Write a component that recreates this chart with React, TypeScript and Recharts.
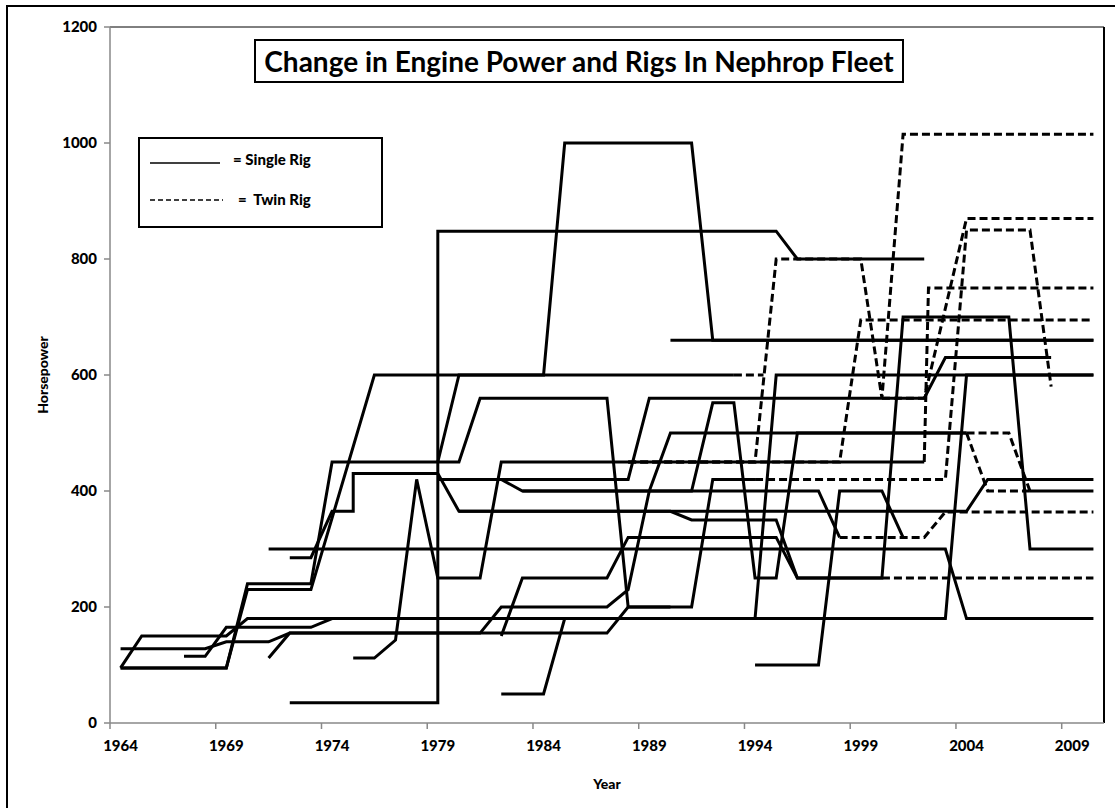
import React from 'react';
import { LineChart, Line, XAxis, YAxis, ReferenceLine } from 'recharts';

// Engine power (hp) per vessel by year. A vessel that changed rig has a solid
// run (single rig) and a dashed run (twin rig) that share the changeover point.
type Pt = [number, number];

const yearTicks = [1964, 1969, 1974, 1979, 1984, 1989, 1994, 1999, 2004, 2009];
const hpTicks = [0, 200, 400, 600, 800, 1000, 1200];

const single01: Pt[] = [[1972, 35], [1979, 35], [1979, 848], [1995, 848], [1996, 800], [2002, 800]];
const single02: Pt[] = [[1964, 95], [1969, 95], [1970, 230], [1973, 230], [1976, 600], [1984, 600], [1985, 1000], [1991, 1000], [1992, 660], [2010, 660]];
const single03: Pt[] = [[1964, 95], [1969, 95], [1970, 240], [1973, 240], [1974, 450], [1980, 450], [1981, 560], [1987, 560], [1988, 200], [1991, 200], [1992, 420], [1994, 420]];
const twin03: Pt[] = [[1994, 420], [2003, 420], [2004, 850], [2007, 850], [2008, 580]];
const single04: Pt[] = [[1979, 450], [1980, 600], [1993, 600]];
const twin04: Pt[] = [[1993, 600], [1994.4, 600]];
const single05: Pt[] = [[1972, 285], [1973, 285], [1974, 365], [1975, 365], [1975, 430], [1979, 430], [1980, 365], [2004, 365], [2005, 420], [2010, 420]];
const single06: Pt[] = [[1980, 365], [1990, 365], [1991, 350], [1995, 350], [1996, 250], [2000, 250], [2001, 700], [2006, 700], [2007, 300], [2010, 300]];
const single07: Pt[] = [[1975, 112], [1976, 112], [1977, 143], [1978, 420], [1979, 250], [1981, 250], [1982, 450], [2002, 450]];
const twin07: Pt[] = [[2002, 450], [2002.2, 750], [2010, 750]];
const twin08: Pt[] = [[1988, 450], [1994, 450], [1995, 800], [1999, 800], [2000, 560], [2001, 1015], [2010, 1015]];
const single09: Pt[] = [[1979, 420], [1988, 420], [1989, 560], [2002, 560], [2003, 630], [2008, 630]];
const single10: Pt[] = [[1990, 660], [2010, 660]];
const single11: Pt[] = [[1964, 128], [1968, 128], [1969, 140], [1971, 140], [1972, 155], [1981, 155], [1982, 200], [1987, 200], [1988, 230], [1989, 400], [1990, 500], [2004, 500]];
const twin11: Pt[] = [[2004, 500], [2006, 500], [2007, 400]];
const single11b: Pt[] = [[2007, 400], [2010, 400]];
const twin13: Pt[] = [[2004, 500], [2005, 400], [2007, 400]];
const single14: Pt[] = [[1982, 150], [1983, 250], [1987, 250], [1988, 320], [1995, 320], [1996, 250], [2000, 250]];
const twin14: Pt[] = [[2000, 250], [2010, 250]];
const single15: Pt[] = [[1983, 400], [1991, 400], [1992, 552], [1993, 552], [1994, 250], [1995, 250], [1996, 500], [2004, 500]];
const single16: Pt[] = [[1979, 420], [1982, 420], [1983, 400], [1997, 400], [1998, 320]];
const twin16: Pt[] = [[1998, 320], [2002, 320], [2003, 364], [2010, 364]];
const single17: Pt[] = [[1994, 100], [1997, 100], [1998, 400], [2000, 400], [2001, 320]];
const single19: Pt[] = [[1967, 115], [1968, 115], [1969, 165], [1973, 165], [1974, 180], [1994, 180], [1995, 600], [2010, 600]];
const single20: Pt[] = [[1964, 95], [1965, 150], [1969, 150], [1970, 180], [2003, 180], [2004, 600], [2010, 600]];
const single21: Pt[] = [[1971, 300], [2003, 300], [2004, 180], [2010, 180]];
const single25: Pt[] = [[1971, 112], [1972, 155], [1987, 155], [1988, 200], [1990, 200]];
const twin28: Pt[] = [[2000, 560], [2002, 560], [2004, 870], [2010, 870]];
const twin30: Pt[] = [[1988, 450], [1998, 450], [1999, 695], [2010, 695]];
const single32: Pt[] = [[1982, 50], [1984, 50], [1985, 180], [1994, 180]];

const runs: { id: string; pts: Pt[]; twin: boolean }[] = [
  { id: 's01', pts: single01, twin: false },
  { id: 's02', pts: single02, twin: false },
  { id: 's03', pts: single03, twin: false },
  { id: 't03', pts: twin03, twin: true },
  { id: 's04', pts: single04, twin: false },
  { id: 't04', pts: twin04, twin: true },
  { id: 's05', pts: single05, twin: false },
  { id: 's06', pts: single06, twin: false },
  { id: 's07', pts: single07, twin: false },
  { id: 't07', pts: twin07, twin: true },
  { id: 't08', pts: twin08, twin: true },
  { id: 's09', pts: single09, twin: false },
  { id: 's10', pts: single10, twin: false },
  { id: 's11', pts: single11, twin: false },
  { id: 't11', pts: twin11, twin: true },
  { id: 's11b', pts: single11b, twin: false },
  { id: 't13', pts: twin13, twin: true },
  { id: 's14', pts: single14, twin: false },
  { id: 't14', pts: twin14, twin: true },
  { id: 's15', pts: single15, twin: false },
  { id: 's16', pts: single16, twin: false },
  { id: 't16', pts: twin16, twin: true },
  { id: 's17', pts: single17, twin: false },
  { id: 's19', pts: single19, twin: false },
  { id: 's20', pts: single20, twin: false },
  { id: 's21', pts: single21, twin: false },
  { id: 's25', pts: single25, twin: false },
  { id: 't28', pts: twin28, twin: true },
  { id: 't30', pts: twin30, twin: true },
  { id: 's32', pts: single32, twin: false },
];

const FONT = 'Lato, "Liberation Sans", sans-serif';
const AXIS_GREY = '#888888';
const PLOT_W = 994;
// year labels sit on the category, tick marks on the boundary between years
const HALF_YEAR_PX = PLOT_W / 47 / 2;

const YearTick = (props: any) => {
  const { x, y, payload } = props;
  return (
    <g>
      <line x1={x - HALF_YEAR_PX} x2={x - HALF_YEAR_PX} y1={y - 8} y2={y - 2} stroke={AXIS_GREY} strokeWidth={1.5} />
      <text x={x} y={y + 20} textAnchor="middle" fontFamily={FONT} fontWeight={900} fontSize={15} fill="#000">
        {payload.value}
      </text>
    </g>
  );
};

export default function App() {
  return (
    <div style={{ position: 'absolute', left: 0, top: 0, width: 1115, height: 808, overflow: 'hidden', background: '#fff' }}>
      <div style={{ position: 'absolute', left: 6, top: 5, width: 1130, height: 830, border: '2px solid #000' }} />
      <LineChart width={1115} height={808} margin={{ top: 27, right: 11, bottom: 55, left: 50 }}>
        <XAxis
          type="number"
          dataKey="year"
          domain={[1963.5, 2010.5]}
          ticks={yearTicks}
          interval={0}
          allowDataOverflow
          height={30}
          tickLine={false}
          tick={<YearTick />}
          axisLine={{ stroke: AXIS_GREY, strokeWidth: 1.5 }}
        />
        <YAxis
          type="number"
          domain={[0, 1200]}
          ticks={hpTicks}
          interval={0}
          width={60}
          tickMargin={7}
          tickLine={{ stroke: AXIS_GREY, strokeWidth: 1.5 }}
          axisLine={{ stroke: AXIS_GREY, strokeWidth: 1.5 }}
          tick={{ fill: '#000', fontFamily: FONT, fontWeight: 900, fontSize: 15 }}
        />
        <ReferenceLine y={1200} stroke="#000" strokeWidth={1} />
        <ReferenceLine x={2010.5} stroke="#000" strokeWidth={2} />
        {runs.map((r) => (
          <Line
            key={r.id}
            data={r.pts.map(([year, hp]) => ({ year, hp }))}
            dataKey="hp"
            type="linear"
            stroke="#000"
            strokeWidth={3}
            strokeDasharray={r.twin ? '8 4' : undefined}
            dot={false}
            activeDot={false}
            isAnimationActive={false}
          />
        ))}
      </LineChart>

      <div
        style={{
          position: 'absolute', left: 254, top: 39, width: 646, height: 40, border: '2px solid #000', background: '#fff',
          fontFamily: FONT, fontWeight: 700, fontSize: 28, lineHeight: '40px', textAlign: 'center', color: '#000',
          whiteSpace: 'nowrap',
        }}
      >
        Change in Engine Power and Rigs In Nephrop Fleet
      </div>

      <div style={{ position: 'absolute', left: 138, top: 137, width: 241, height: 87, border: '2px solid #000', background: '#fff' }}>
        <svg width={241} height={87} style={{ position: 'absolute', left: 0, top: 0 }}>
          <line x1={10} x2={80} y1={24} y2={24} stroke="#000" strokeWidth={1.5} />
          <line x1={10} x2={83} y1={61} y2={61} stroke="#000" strokeWidth={1.5} strokeDasharray="5 3" />
          <text x={93} y={21} dy="0.35em" fontFamily={FONT} fontWeight={900} fontSize={15}>= Single Rig</text>
          <text x={98} y={61} dy="0.35em" fontFamily={FONT} fontWeight={900} fontSize={15} style={{ whiteSpace: 'pre' }}>{'=  Twin Rig'}</text>
        </svg>
      </div>

      <div
        style={{
          position: 'absolute', left: 42, top: 375, transform: 'translate(-50%, -50%) rotate(-90deg)',
          fontFamily: FONT, fontWeight: 900, fontSize: 14, whiteSpace: 'nowrap',
        }}
      >
        Horsepower
      </div>
      <div
        style={{
          position: 'absolute', left: 607, top: 783, transform: 'translate(-50%, -50%)',
          fontFamily: FONT, fontWeight: 900, fontSize: 14,
        }}
      >
        Year
      </div>
    </div>
  );
}
